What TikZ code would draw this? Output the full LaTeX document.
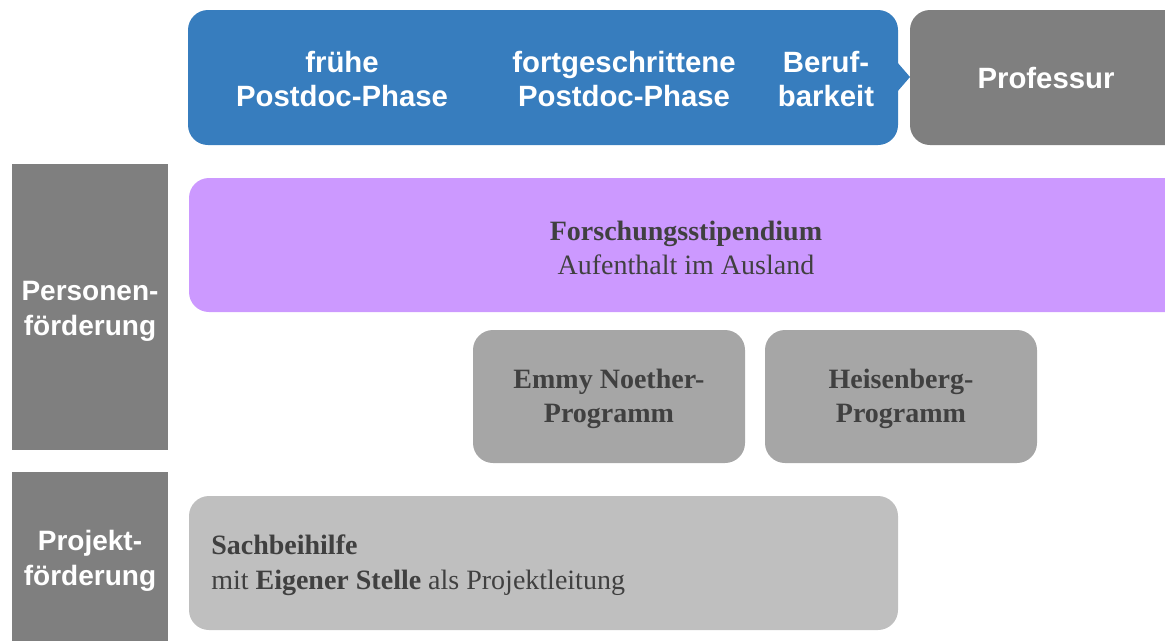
\documentclass[tikz,border=0pt]{standalone}
\usepackage{fontspec}
\newfontfamily\sansf{Liberation Sans}
\newfontfamily\seriff{Liberation Serif}
\definecolor{phaseblue}{RGB}{55,125,190}
\definecolor{darkgr}{RGB}{127,127,127}
\definecolor{midgr}{RGB}{166,166,166}
\definecolor{lightgr}{RGB}{191,191,191}
\definecolor{purp}{RGB}{204,153,255}
\definecolor{txtgr}{RGB}{64,64,64}
\tikzset{
  box/.style={rounded corners=15pt, inner sep=0pt, outer sep=0pt},
  wlab/.style={font=\sansf\bfseries\fontsize{22}{26}\selectfont, text=white, align=center, inner sep=0pt},
  wside/.style={wlab, font=\sansf\bfseries\fontsize{21}{26}\selectfont},
  slab/.style={font=\seriff\fontsize{21}{26}\selectfont, text=txtgr, align=center, inner sep=0pt},
}
\begin{document}
\begin{tikzpicture}[x=0.75pt,y=-0.75pt]
\useasboundingbox (0,0) rectangle (1165,640);
\clip (0,0) rectangle (1165,640);
% top row
\fill[phaseblue, box] (188,10) rectangle (898,145);
\coordinate (bl) at (897,62);
\coordinate (bt) at (910,77);
\coordinate (bb) at (897,92);
\fill[phaseblue] (bl) -- (bt) -- (bb) -- cycle;
\fill[darkgr, box] (910,10) rectangle (1190,145);
\node[wlab] (p1) at (342,79) {frühe\\Postdoc-Phase};
\node[wlab] (p2) at (624,79) {fortgeschrittene\\Postdoc-Phase};
\node[wlab] (p3) at (826,79) {Beruf-\\barkeit};
\node[wlab] (prof) at (1046,78) {Professur};
% left labels
\fill[darkgr] (12,164) rectangle (168,450);
\node[wside] (pers) at (90,311) {Personen-\\förderung};
\fill[darkgr] (12,472) rectangle (168,650);
\node[wside] (proj) at (90,561) {Projekt-\\förderung};
% purple
\fill[purp, box] (189,178) rectangle (1190,312);
\node[slab] (fs) at (686,248) {\textbf{Forschungsstipendium}\\Aufenthalt im Ausland};
% programmes
\fill[midgr, box] (473,330) rectangle (745,463);
\node[slab, font=\seriff\bfseries\fontsize{21}{26}\selectfont] (en) at (609,399) {Emmy Noether-\\Programm};
\fill[midgr, box] (765,330) rectangle (1037,463);
\node[slab, font=\seriff\bfseries\fontsize{21}{26}\selectfont] (hb) at (901,399) {Heisenberg-\\Programm};
% Sachbeihilfe
\fill[lightgr, box] (189,496) rectangle (898,630);
\node[slab, align=left, anchor=west] (sb) at (211,565) {\textbf{Sachbeihilfe}\\mit \textbf{Eigener Stelle} als Projektleitung};
\end{tikzpicture}
\end{document}
